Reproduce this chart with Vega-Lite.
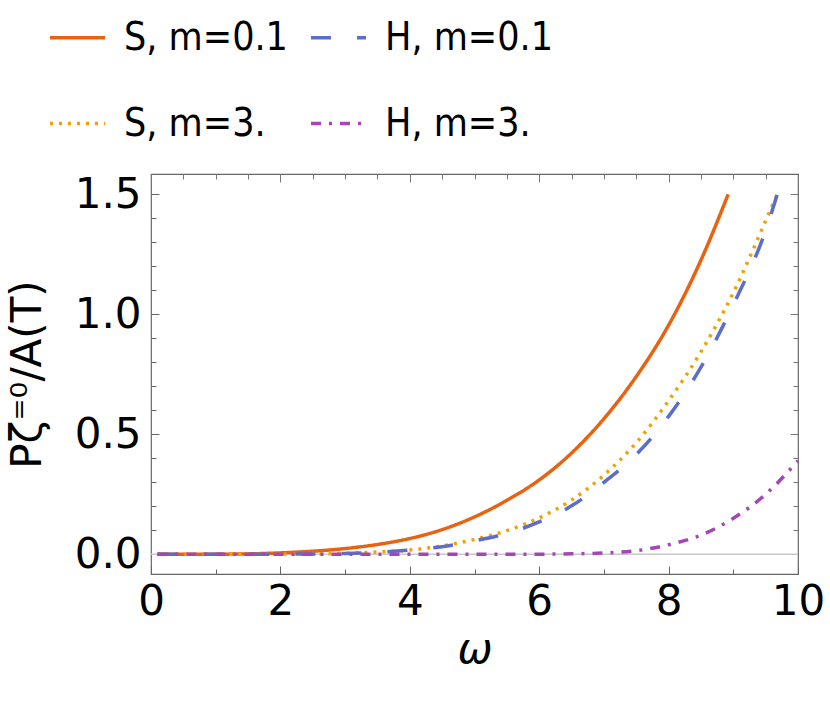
{
  "$schema": "https://vega.github.io/schema/vega-lite/v6.json",
  "width": 647,
  "height": 400,
  "autosize": {"type": "none"},
  "padding": {"left": 151, "top": 174, "right": 32, "bottom": 135},
  "background": "white",
  "config": {
    "font": "DejaVu Sans",
    "view": {"stroke": "#666666", "strokeWidth": 1.2},
    "legend": {
      "orient": "none", "legendX": -103, "legendY": -166,
      "columns": 2, "symbolType": "stroke", "symbolSize": 3025, "symbolStrokeWidth": 3.5,
      "labelFont": "DejaVu Sans Condensed, Liberation Sans Narrow, Liberation Sans", "labelFontSize": 39, "labelColor": "black",
      "labelOffset": 17, "labelLimit": 400, "rowPadding": 36, "columnPadding": 16, "padding": 0
    }
  },
  "datasets": {
    "curves": [
      {"w": 0.1, "v": 0, "s": "S, m=0.1"}, {"w": 0.5, "v": 0.0001, "s": "S, m=0.1"}, {"w": 1, "v": 0.0005, "s": "S, m=0.1"},
      {"w": 1.5, "v": 0.0018, "s": "S, m=0.1"}, {"w": 2, "v": 0.006, "s": "S, m=0.1"}, {"w": 2.5, "v": 0.013, "s": "S, m=0.1"},
      {"w": 3, "v": 0.024, "s": "S, m=0.1"}, {"w": 3.5, "v": 0.041, "s": "S, m=0.1"}, {"w": 4, "v": 0.066, "s": "S, m=0.1"},
      {"w": 4.5, "v": 0.103, "s": "S, m=0.1"}, {"w": 5, "v": 0.156, "s": "S, m=0.1"}, {"w": 5.5, "v": 0.225, "s": "S, m=0.1"},
      {"w": 6, "v": 0.31, "s": "S, m=0.1"}, {"w": 6.5, "v": 0.422, "s": "S, m=0.1"}, {"w": 7, "v": 0.565, "s": "S, m=0.1"},
      {"w": 7.5, "v": 0.741, "s": "S, m=0.1"}, {"w": 8, "v": 0.955, "s": "S, m=0.1"}, {"w": 8.5, "v": 1.226, "s": "S, m=0.1"},
      {"w": 8.92, "v": 1.5, "s": "S, m=0.1"},

      {"w": 0.1, "v": 0, "s": "S, m=3."}, {"w": 1, "v": 0, "s": "S, m=3."}, {"w": 1.5, "v": 0.0002, "s": "S, m=3."},
      {"w": 2, "v": 0.0007, "s": "S, m=3."}, {"w": 2.5, "v": 0.0017, "s": "S, m=3."}, {"w": 3, "v": 0.0045, "s": "S, m=3."},
      {"w": 3.5, "v": 0.0095, "s": "S, m=3."}, {"w": 4, "v": 0.018, "s": "S, m=3."}, {"w": 4.5, "v": 0.035, "s": "S, m=3."},
      {"w": 5, "v": 0.062, "s": "S, m=3."}, {"w": 5.5, "v": 0.099, "s": "S, m=3."}, {"w": 6, "v": 0.152, "s": "S, m=3."},
      {"w": 6.5, "v": 0.226, "s": "S, m=3."}, {"w": 7, "v": 0.33, "s": "S, m=3."}, {"w": 7.5, "v": 0.465, "s": "S, m=3."},
      {"w": 8, "v": 0.64, "s": "S, m=3."}, {"w": 8.5, "v": 0.844, "s": "S, m=3."}, {"w": 9, "v": 1.09, "s": "S, m=3."},
      {"w": 9.5, "v": 1.39, "s": "S, m=3."}, {"w": 9.68, "v": 1.5, "s": "S, m=3."},

      {"w": 0.1, "v": 0, "s": "H, m=0.1"}, {"w": 1, "v": 0, "s": "H, m=0.1"}, {"w": 1.5, "v": 0.0002, "s": "H, m=0.1"},
      {"w": 2, "v": 0.0006, "s": "H, m=0.1"}, {"w": 2.5, "v": 0.0015, "s": "H, m=0.1"}, {"w": 3, "v": 0.0038, "s": "H, m=0.1"},
      {"w": 3.5, "v": 0.0085, "s": "H, m=0.1"}, {"w": 4, "v": 0.018, "s": "H, m=0.1"}, {"w": 4.5, "v": 0.032, "s": "H, m=0.1"},
      {"w": 5, "v": 0.056, "s": "H, m=0.1"}, {"w": 5.5, "v": 0.087, "s": "H, m=0.1"}, {"w": 6, "v": 0.135, "s": "H, m=0.1"},
      {"w": 6.5, "v": 0.202, "s": "H, m=0.1"}, {"w": 7, "v": 0.3, "s": "H, m=0.1"}, {"w": 7.5, "v": 0.416, "s": "H, m=0.1"},
      {"w": 8, "v": 0.575, "s": "H, m=0.1"}, {"w": 8.5, "v": 0.78, "s": "H, m=0.1"}, {"w": 9, "v": 1.04, "s": "H, m=0.1"},
      {"w": 9.5, "v": 1.35, "s": "H, m=0.1"}, {"w": 9.68, "v": 1.5, "s": "H, m=0.1"},

      {"w": 0.1, "v": 0, "s": "H, m=3."}, {"w": 5, "v": 0, "s": "H, m=3."}, {"w": 5.5, "v": 0.0002, "s": "H, m=3."},
      {"w": 6, "v": 0.0006, "s": "H, m=3."}, {"w": 6.5, "v": 0.002, "s": "H, m=3."}, {"w": 7, "v": 0.0055, "s": "H, m=3."},
      {"w": 7.5, "v": 0.015, "s": "H, m=3."}, {"w": 8, "v": 0.04, "s": "H, m=3."}, {"w": 8.5, "v": 0.08, "s": "H, m=3."},
      {"w": 9, "v": 0.15, "s": "H, m=3."}, {"w": 9.5, "v": 0.25, "s": "H, m=3."}, {"w": 10, "v": 0.39, "s": "H, m=3."}
    ]
  },
  "resolve": {"axis": {"x": "independent", "y": "independent"}},
  "layer": [
    {
      "data": {"values": [{"w": 0, "w2": 10, "v": 0}]},
      "mark": {"type": "rule", "color": "#c8c8c8", "strokeWidth": 1.5},
      "encoding": {
        "x": {"field": "w", "type": "quantitative",
              "axis": {"orient": "top", "values": [0,0.5,1,1.5,2,2.5,3,3.5,4,4.5,5,5.5,6,6.5,7,7.5,8,8.5,9,9.5,10],
                       "labels": false, "domain": false, "grid": false, "title": null, "tickColor": "#777777",
                       "tickSize": {"condition": {"test": "datum.value % 2 === 0", "value": -8}, "value": -5}}},
        "x2": {"field": "w2"},
        "y": {"field": "v", "type": "quantitative",
              "axis": {"orient": "right", "values": [0,0.1,0.2,0.3,0.4,0.5,0.6,0.7,0.8,0.9,1,1.1,1.2,1.3,1.4,1.5],
                       "labels": false, "domain": false, "grid": false, "title": null, "tickColor": "#777777",
                       "tickSize": {"condition": {"test": "abs(datum.value*2 - round(datum.value*2)) < 0.001", "value": -8}, "value": -5}}}
      }
    },
    {
      "data": {"name": "curves"},
      "mark": {"type": "line", "strokeWidth": 3.5, "interpolate": "monotone"},
      "encoding": {
        "x": {"field": "w", "type": "quantitative",
              "scale": {"domain": [0, 10], "nice": false, "zero": false},
              "axis": {"orient": "bottom", "values": [0,0.5,1,1.5,2,2.5,3,3.5,4,4.5,5,5.5,6,6.5,7,7.5,8,8.5,9,9.5,10],
                       "format": "d",
                       "labelExpr": "datum.value % 2 === 0 ? datum.label : ''",
                       "labelFontSize": 42, "labelColor": "black", "labelPadding": 15, "labelOverlap": false,
                       "labelFlush": false, "labelBound": false, "domain": false, "grid": false, "tickColor": "#666666",
                       "tickSize": {"condition": {"test": "datum.value % 2 === 0", "value": -8}, "value": -5},
                       "title": "ω", "titleFontSize": 42, "titleFontStyle": "italic", "titleFontWeight": "normal",
                       "titleColor": "black", "titlePadding": 4}},
        "y": {"field": "v", "type": "quantitative",
              "scale": {"domain": [-0.082, 1.585], "nice": false, "zero": false},
              "axis": {"orient": "left", "values": [0,0.1,0.2,0.3,0.4,0.5,0.6,0.7,0.8,0.9,1,1.1,1.2,1.3,1.4,1.5],
                       "format": ".1f",
                       "labelExpr": "abs(datum.value*2 - round(datum.value*2)) < 0.001 ? datum.label : ''",
                       "labelFontSize": 42, "labelColor": "black", "labelPadding": 18, "labelOverlap": false,
                       "labelFlush": false, "labelBound": false, "domain": false, "grid": false, "tickColor": "#666666",
                       "tickSize": {"condition": {"test": "abs(datum.value*2 - round(datum.value*2)) < 0.001", "value": -8}, "value": -5},
                       "title": "Pζ⁼⁰/A(T)", "titleFontSize": 42, "titleFontWeight": "normal",
                       "titleColor": "black", "titlePadding": 25}},
        "color": {"field": "s", "type": "nominal", "title": null,
                  "scale": {"domain": ["S, m=0.1", "S, m=3.", "H, m=0.1", "H, m=3."],
                            "range": ["#E8620F", "#F3A000", "#5B6EC9", "#A447B5"]}},
        "strokeDash": {"field": "s", "type": "nominal", "title": null,
                       "scale": {"domain": ["S, m=0.1", "S, m=3.", "H, m=0.1", "H, m=3."],
                                 "range": [[1, 0], [3, 6], [20, 26], [10, 8, 3, 8]]}}
      }
    }
  ]
}
